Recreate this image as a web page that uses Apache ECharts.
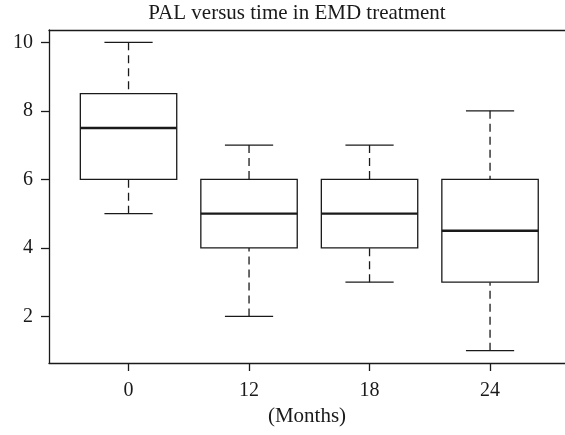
<!DOCTYPE html>
<html>
<head>
<meta charset="utf-8">
<style>
  html, body { margin: 0; padding: 0; background: #fff; }
  #chart { width: 565px; height: 435px; }
</style>
<script src="https://cdn.jsdelivr.net/npm/echarts@6/dist/echarts.min.js"></script>
</head>
<body>
<div id="chart"></div>
<script>
// months (x categories)
var categories = ['0', '12', '18', '24'];
// five-number summary per group
var whiskerLow = [5, 2, 3, 1];
var lowerQuartile = [6, 4, 4, 3];
var medians = [7.5, 5, 5, 4.5];
var upperQuartile = [8.5, 6, 6, 6];
var whiskerHigh = [10, 7, 7, 8];
var yTicks = [2, 4, 6, 8, 10];

// [x, low, q1, median, q3, high]
var boxData = categories.map(function (c, i) {
    return [i + 1, whiskerLow[i], lowerQuartile[i], medians[i], upperQuartile[i], whiskerHigh[i]];
});
var xTicks = boxData.map(function (d) { return d[0]; });

var ink = '#1a1a1a';
var font = 'Liberation Serif';

function renderBox(params, api) {
    var x = api.value(0);
    var lo = api.coord([x, api.value(1)]);
    var q1 = api.coord([x, api.value(2)]);
    var md = api.coord([x, api.value(3)]);
    var q3 = api.coord([x, api.value(4)]);
    var hi = api.coord([x, api.value(5)]);
    var half = api.size([0.4, 0])[0];
    var cap = half / 2;
    var line = { stroke: ink, lineWidth: 1.3, fill: null };
    var dashed = { stroke: ink, lineWidth: 1.3, lineDash: [8, 5] };
    return {
        type: 'group',
        children: [
            // whiskers, drawn from the cap towards the box
            { type: 'line', shape: { x1: hi[0], y1: hi[1], x2: q3[0], y2: q3[1] }, style: dashed },
            { type: 'line', shape: { x1: lo[0], y1: lo[1], x2: q1[0], y2: q1[1] }, style: dashed },
            { type: 'line', shape: { x1: hi[0] - cap, y1: hi[1], x2: hi[0] + cap, y2: hi[1] }, style: line },
            { type: 'line', shape: { x1: lo[0] - cap, y1: lo[1], x2: lo[0] + cap, y2: lo[1] }, style: line },
            // box
            { type: 'rect', shape: { x: q3[0] - half, y: q3[1], width: half * 2, height: q1[1] - q3[1] }, style: { stroke: ink, lineWidth: 1.3, fill: '#fff' } },
            // median
            { type: 'line', shape: { x1: md[0] - half, y1: md[1], x2: md[0] + half, y2: md[1] }, style: { stroke: ink, lineWidth: 2.4 } }
        ]
    };
}

var chart = echarts.init(document.getElementById('chart'));
chart.setOption({
    animation: false,
    title: {
        text: 'PAL versus time in EMD treatment',
        left: 297,
        top: 3,
        padding: 0,
        textAlign: 'center',
        textStyle: { fontFamily: font, fontSize: 21, fontWeight: 'normal', color: ink }
    },
    grid: { left: 49, right: 0, top: 30, bottom: 72 },
    xAxis: [{
        type: 'value',
        min: 0.34,
        max: 4.622,
        name: '(Months)',
        nameLocation: 'middle',
        nameGap: 41,
        nameTextStyle: { fontFamily: font, fontSize: 21, color: ink },
        axisLine: { show: true, lineStyle: { color: ink, width: 1.3 } },
        axisTick: { show: true, length: 8, customValues: xTicks, lineStyle: { color: ink, width: 1.3 } },
        axisLabel: {
            customValues: xTicks,
            margin: 18,
            fontFamily: font, fontSize: 20, color: ink,
            formatter: function (v) { return categories[Math.round(v) - 1]; }
        },
        splitLine: { show: false }
    }, {
        // top frame line only
        type: 'value',
        position: 'top',
        min: 0.34,
        max: 4.622,
        axisLine: { show: true, lineStyle: { color: ink, width: 1.3 } },
        axisTick: { show: false },
        axisLabel: { show: false },
        splitLine: { show: false }
    }],
    yAxis: {
        type: 'value',
        min: 0.64,
        max: 10.36,
        axisLine: { show: true, lineStyle: { color: ink, width: 1.3 } },
        axisTick: { show: true, length: 8, customValues: yTicks, lineStyle: { color: ink, width: 1.3 } },
        axisLabel: { customValues: yTicks, margin: 16, fontFamily: font, fontSize: 20, color: ink },
        splitLine: { show: false }
    },
    series: [{
        type: 'custom',
        renderItem: renderBox,
        data: boxData,
        encode: { x: 0, y: [1, 2, 3, 4, 5] }
    }]
});
</script>
</body>
</html>
